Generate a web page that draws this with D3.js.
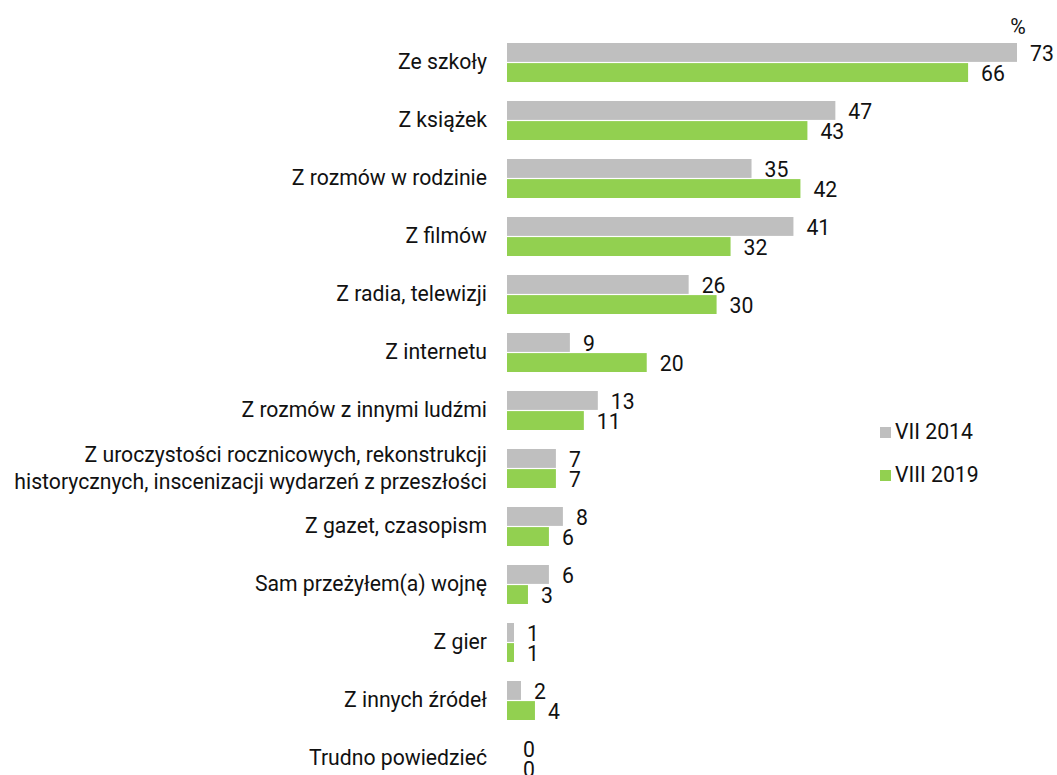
<!DOCTYPE html>
<html>
<head>
<meta charset="utf-8">
<script src="https://cdn.jsdelivr.net/npm/d3@7"></script>
<style>
  body { margin: 0; background: #fff; }
  svg { display: block; font-family: Roboto, "Noto Sans", sans-serif; }
</style>
</head>
<body>
<div id="chart"></div>
<script>
const categories = [
    ["Ze szkoły"],
    ["Z książek"],
    ["Z rozmów w rodzinie"],
    ["Z filmów"],
    ["Z radia, telewizji"],
    ["Z internetu"],
    ["Z rozmów z innymi ludźmi"],
    ["Z uroczystości rocznicowych, rekonstrukcji", "historycznych, inscenizacji wydarzeń z przeszłości"],
    ["Z gazet, czasopism"],
    ["Sam przeżyłem(a) wojnę"],
    ["Z gier"],
    ["Z innych źródeł"],
    ["Trudno powiedzieć"]
];
const seriesNames = ["VII 2014", "VIII 2019"];
const values2014 = [73, 47, 35, 41, 26, 9, 13, 7, 8, 6, 1, 2, 0];
const values2019 = [66, 43, 42, 32, 30, 20, 11, 7, 6, 3, 1, 4, 0];
const colors = ["#BFBFBF", "#92D050"];

const width = 1057, height = 775;
const fontSize = "21.2px";

const svg = d3.select("#chart").append("svg")
    .attr("width", width)
    .attr("height", height);

// Build rows, one per category
const rows = categories.map((c, i) => ({
    idx: i,
    lines: c,
    vals: [values2014[i], values2019[i]]
}));

const yScale = d3.scaleBand()
    .domain(rows.map(d => d.idx))
    .range([33, 33 + 58 * rows.length]);

const ySub = d3.scaleBand()
    .domain(seriesNames)
    .range([10, 49])
    .paddingInner(0.06);

const xScale = d3.scaleLinear()
    .domain([0, 73])
    .range([507, 1017]);

const row = svg.selectAll("g.row")
    .data(rows)
    .join("g")
        .attr("class", "row")
        .attr("transform", d => `translate(0,${yScale(d.idx)})`);

// Category labels (right aligned)
row.each(function(d) {
    const g = d3.select(this);
    const cy = yScale.bandwidth() / 2;
    const n = d.lines.length;
    d.lines.forEach((line, k) => {
        g.append("text")
            .text(line)
            .attr("x", 487)
            .attr("y", cy + (k - (n - 1) / 2) * 27)
            .attr("dy", "0.35em")
            .style("text-anchor", "end")
            .style("font-size", fontSize)
            .attr("fill", "#111");
    });
});

// Bars
row.selectAll("rect")
    .data(d => d.vals.map((v, s) => ({ key: seriesNames[s], value: v, s: s })))
    .join("rect")
        .attr("x", xScale(0))
        .attr("y", d => ySub(d.key))
        .attr("width", d => xScale(d.value) - xScale(0))
        .attr("height", ySub.bandwidth())
        .attr("fill", d => colors[d.s]);

// Value labels
row.selectAll("text.value")
    .data(d => d.vals.map((v, s) => ({ key: seriesNames[s], value: v, s: s })))
    .join("text")
        .attr("class", "value")
        .text(d => d.value)
        .attr("x", d => xScale(d.value) + (d.value === 0 ? 16 : 13))
        .attr("y", d => ySub(d.key) + ySub.bandwidth() / 2 + 1)
        .attr("dy", "0.35em")
        .style("font-size", fontSize)
        .attr("fill", "#111");

// Unit
svg.append("text")
    .text("%")
    .attr("x", 1018)
    .attr("y", 27)
    .attr("dy", "0.35em")
    .style("text-anchor", "middle")
    .style("font-size", fontSize)
    .attr("fill", "#111");

// Legend
const legend = svg.selectAll("g.legend")
    .data(seriesNames)
    .join("g")
        .attr("class", "legend")
        .attr("transform", (d, i) => `translate(880,${432 + i * 43})`);

legend.append("rect")
    .attr("x", 0)
    .attr("y", -5)
    .attr("width", 11)
    .attr("height", 11)
    .attr("fill", (d, i) => colors[i]);

legend.append("text")
    .text(d => d)
    .attr("x", 15)
    .attr("y", 0)
    .attr("dy", "0.35em")
    .style("font-size", fontSize)
    .attr("fill", "#111");
</script>
</body>
</html>
